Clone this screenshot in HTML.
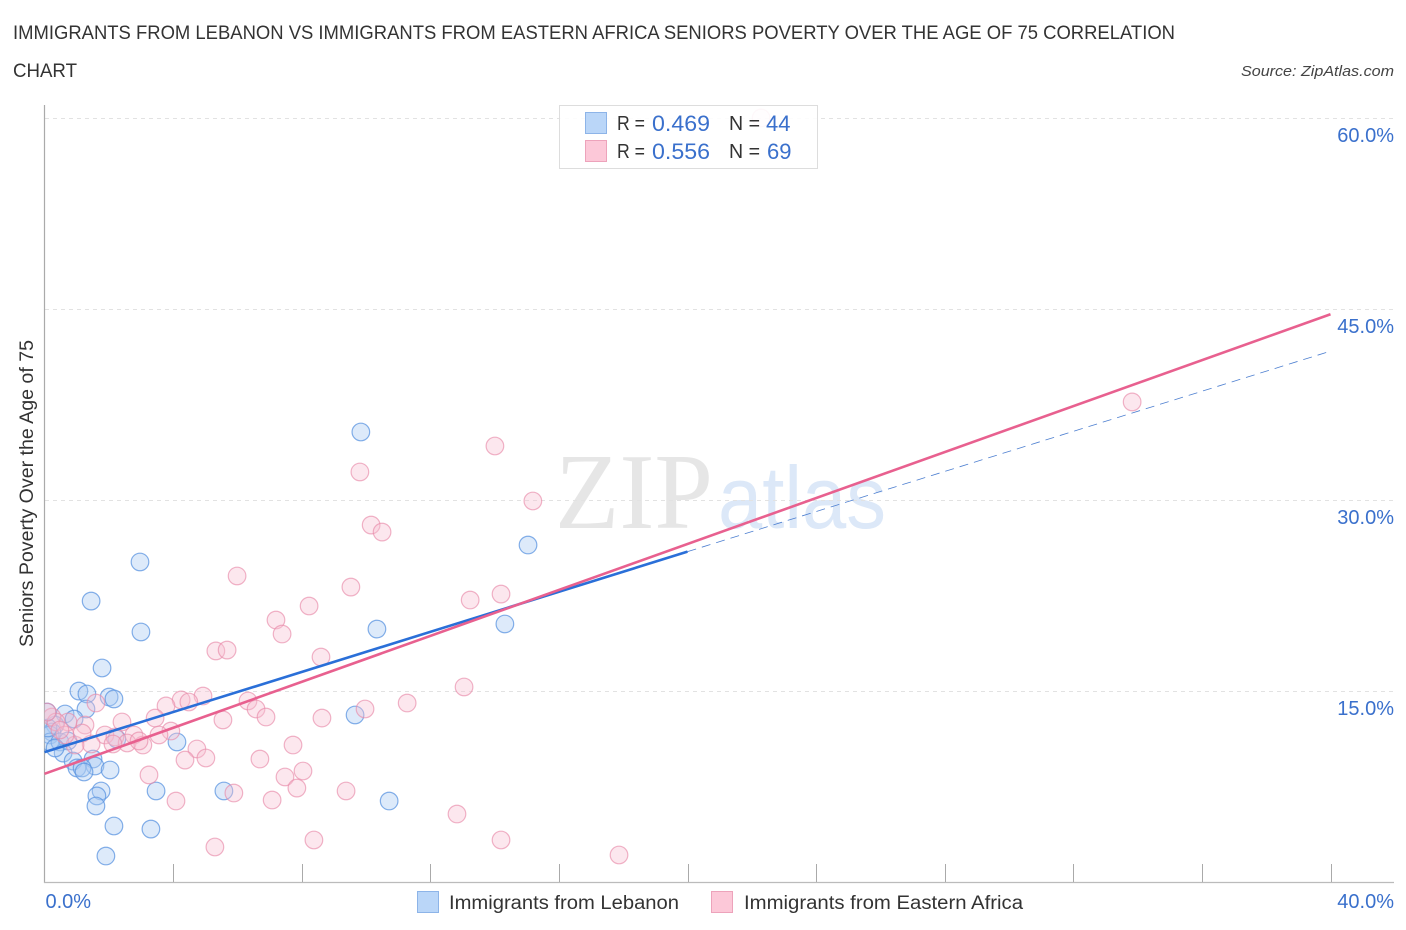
<!DOCTYPE html>
<html lang="en">
<head>
<meta charset="utf-8">
<title>Immigrants from Lebanon vs Immigrants from Eastern Africa Correlation Chart</title>
<style>
html,body{margin:0;padding:0;background:#fff;width:1406px;height:930px;overflow:hidden}
svg{display:block;font-family:"Liberation Sans",sans-serif}
</style>
</head>
<body>
<svg id="chart" width="1406" height="930" viewBox="0 0 1406 930" xmlns="http://www.w3.org/2000/svg">
  <defs><clipPath id="plot-clip"><rect x="44.5" y="100" width="1360" height="782"/></clipPath></defs>
  <text x="13" y="39" font-size="19" fill="#333" textLength="1162" lengthAdjust="spacingAndGlyphs">IMMIGRANTS FROM LEBANON VS IMMIGRANTS FROM EASTERN AFRICA SENIORS POVERTY OVER THE AGE OF 75 CORRELATION</text>
  <text x="13" y="77" font-size="19" fill="#333" textLength="64" lengthAdjust="spacingAndGlyphs">CHART</text>
  <text x="1394" y="76" font-size="15" font-style="italic" fill="#444" text-anchor="end" textLength="153" lengthAdjust="spacingAndGlyphs">Source: ZipAtlas.com</text>
  <text transform="translate(33,647) rotate(-90)" font-size="19" fill="#333" textLength="307" lengthAdjust="spacingAndGlyphs">Seniors Poverty Over the Age of 75</text>
  <g>
    <text x="555" y="528" font-family="'Liberation Serif',serif" font-size="108" fill="#e6e6e6" textLength="158" lengthAdjust="spacingAndGlyphs">ZIP</text>
    <text x="718" y="528" font-size="88" fill="#dce8f8" textLength="168" lengthAdjust="spacingAndGlyphs">atlas</text>
  </g>
  <g id="grid"></g>
  <g id="axes"></g>
  <g id="points-blue" clip-path="url(#plot-clip)"></g>
  <g id="points-pink" clip-path="url(#plot-clip)"></g>
  <g id="trends"></g>
  <g>
    <rect x="559.5" y="105.5" width="258" height="63" fill="#fff" fill-opacity="0.9" stroke="#ddd" stroke-width="1"/>
    <rect x="585.5" y="112.5" width="21" height="21" fill="#bad6f8" stroke="#8db4e8"/>
    <rect x="585.5" y="140.5" width="21" height="21" fill="#fcc8d8" stroke="#eda3bb"/>
    <g font-size="20" fill="#333">
      <text x="617" y="130" textLength="28" lengthAdjust="spacingAndGlyphs">R =</text>
      <text x="729" y="130" textLength="31" lengthAdjust="spacingAndGlyphs">N =</text>
      <text x="617" y="158" textLength="28" lengthAdjust="spacingAndGlyphs">R =</text>
      <text x="729" y="158" textLength="31" lengthAdjust="spacingAndGlyphs">N =</text>
    </g>
    <g font-size="22" fill="#3a70cc">
      <text x="652" y="131" textLength="58" lengthAdjust="spacingAndGlyphs">0.469</text>
      <text x="766" y="131">44</text>
      <text x="652" y="159" textLength="58" lengthAdjust="spacingAndGlyphs">0.556</text>
      <text x="767" y="159">69</text>
    </g>
  </g>
  <g>
    <rect x="417.5" y="891.5" width="21" height="21" fill="#bad6f8" stroke="#8db4e8"/>
    <text x="449" y="909" font-size="19" fill="#333" textLength="230" lengthAdjust="spacingAndGlyphs">Immigrants from Lebanon</text>
    <rect x="711.5" y="891.5" width="21" height="21" fill="#fcc8d8" stroke="#eda3bb"/>
    <text x="744" y="909" font-size="19" fill="#333" textLength="279" lengthAdjust="spacingAndGlyphs">Immigrants from Eastern Africa</text>
  </g>
</svg>
<script>
const yTickValues = [15, 30, 45, 60];
const yTickLabels = ["15.0%", "30.0%", "45.0%", "60.0%"];
const xTickValues = [4, 8, 12, 16, 20, 24, 28, 32, 36, 40];
const xEndValues = [0, 40];
const xEndLabels = ["0.0%", "40.0%"];

const lebanonX = [9.84,15.04,2.97,1.45,3.0,10.34,14.32,1.79,1.07,1.32,2.01,2.16,1.29,0.64,0.92,9.66,4.12,0.33,0.23,0.17,0.17,0.48,0.73,0.58,0.89,1.51,1.57,2.04,1.01,1.17,1.23,1.76,1.63,1.6,3.47,5.58,10.72,2.16,3.31,1.91,2.25,0.33,0.08,0.11];
const lebanonY = [35.35,26.47,25.14,22.07,19.64,19.87,20.27,16.81,15.0,14.77,14.53,14.38,13.59,13.2,12.8,13.12,11.0,12.33,11.78,11.55,11.0,11.0,11.08,10.13,9.5,9.66,9.11,8.8,8.96,8.96,8.64,7.15,6.76,5.97,7.15,7.15,6.36,4.4,4.16,2.04,11.23,10.53,13.35,12.1];

const africaX = [22.29,33.83,14.01,9.81,15.19,10.16,10.5,5.99,9.53,8.23,7.2,7.39,13.24,14.2,5.33,5.68,8.6,13.05,11.28,4.93,4.25,4.49,3.78,6.33,6.58,9.97,6.89,8.63,3.44,5.55,2.41,1.6,3.93,1.26,0.73,0.23,0.36,3.56,2.78,1.88,2.19,2.57,3.06,2.94,1.45,0.95,2.13,1.17,0.64,4.74,7.73,4.37,5.02,6.7,3.25,8.04,7.48,7.85,9.38,5.89,7.08,4.09,12.83,14.2,8.38,5.3,17.87,0.08,0.48];
const africaY = [60.02,37.71,34.25,32.21,29.93,28.04,27.49,24.04,23.17,21.68,20.58,19.48,22.15,22.62,18.15,18.22,17.67,15.32,14.06,14.61,14.3,14.14,13.83,14.22,13.59,13.59,12.96,12.88,12.88,12.73,12.57,14.06,11.86,12.33,12.57,12.96,12.57,11.55,11.55,11.55,11.39,10.92,10.76,11.08,10.84,10.76,10.84,11.7,11.55,10.45,10.76,9.58,9.74,9.66,8.41,8.72,8.25,7.38,7.15,6.99,6.44,6.36,5.34,3.3,3.3,2.75,2.12,13.35,11.94];

const lebanonTrendX = [0, 20, 40];
const lebanonTrendY = [10.2, 25.95, 41.7];
const africaTrendX = [0, 40];
const africaTrendY = [8.5, 44.6];

const NS = "http://www.w3.org/2000/svg";
function xScale(v) { return 44.5 + v * 32.15; }
function yScale(v) { return 882 - v * 12.73; }
function make(parent, tag, attrs, text) {
  const el = document.createElementNS(NS, tag);
  for (const k in attrs) el.setAttribute(k, attrs[k]);
  if (text !== undefined) el.textContent = text;
  parent.appendChild(el);
  return el;
}

const grid = document.getElementById("grid");
const axes = document.getElementById("axes");
const blue = document.getElementById("points-blue");
const pink = document.getElementById("points-pink");
const trends = document.getElementById("trends");












yTickValues.forEach(function (v, i) {
  const y = Math.round(yScale(v)) + 0.5;
  const line = make(grid, "line", {x1: 45, x2: 1395, y1: y, y2: y, stroke: "#e2e2e2", "stroke-width": 1, "stroke-dasharray": "4 4"});
  
  
  const label = make(axes, "text", {x: 1394, y: yScale(v) + 24, "font-size": 20, fill: "#3a70cc", "text-anchor": "end"}, yTickLabels[i]);
  
  
});

const yAxisLine = make(axes, "line", {x1: 44.5, x2: 44.5, y1: 105, y2: 883, stroke: "#aaa", "stroke-width": 1.2});


const xAxisLine = make(axes, "line", {x1: 44, x2: 1394, y1: 882.5, y2: 882.5, stroke: "#bbb", "stroke-width": 1.2});



xTickValues.forEach(function (v) {
  const x = Math.round(xScale(v)) + 0.5;
  const tick = make(axes, "line", {x1: x, x2: x, y1: 864, y2: 882, stroke: "#aaa", "stroke-width": 1});
  
  
});

xEndValues.forEach(function (v, i) {
  const anchorLeft = i === 0;
  const label = make(axes, "text", {x: anchorLeft ? xScale(v) + 1 : 1394, y: 908, "font-size": 20, fill: "#3a70cc", "text-anchor": anchorLeft ? "start" : "end"}, xEndLabels[i]);
  
  
});

lebanonX.forEach(function (v, i) {
  const c = make(blue, "circle", {cx: xScale(v), cy: yScale(lebanonY[i]), r: 8.8, fill: "#a9cbf3", "fill-opacity": 0.4, stroke: "#5b94e0", "stroke-opacity": 0.75, "stroke-width": 1.2});
  
  
});

africaX.forEach(function (v, i) {
  const c = make(pink, "circle", {cx: xScale(v), cy: yScale(africaY[i]), r: 8.8, fill: "#f8bfd2", "fill-opacity": 0.38, stroke: "#e88aa9", "stroke-opacity": 0.65, "stroke-width": 1.2});
  
  
});

const blueDash = make(trends, "line", {x1: xScale(lebanonTrendX[1]), y1: yScale(lebanonTrendY[1]), x2: xScale(lebanonTrendX[2]), y2: yScale(lebanonTrendY[2]), stroke: "#4d7fd0", "stroke-width": 0.8, "stroke-dasharray": "9 6"});


const blueSolid = make(trends, "line", {x1: xScale(lebanonTrendX[0]), y1: yScale(lebanonTrendY[0]), x2: xScale(lebanonTrendX[1]), y2: yScale(lebanonTrendY[1]), stroke: "#2a6fd8", "stroke-width": 2.6});


const pinkSolid = make(trends, "line", {x1: xScale(africaTrendX[0]), y1: yScale(africaTrendY[0]), x2: xScale(africaTrendX[1]), y2: yScale(africaTrendY[1]), stroke: "#e8608f", "stroke-width": 2.6});


</script>
</body>
</html>
